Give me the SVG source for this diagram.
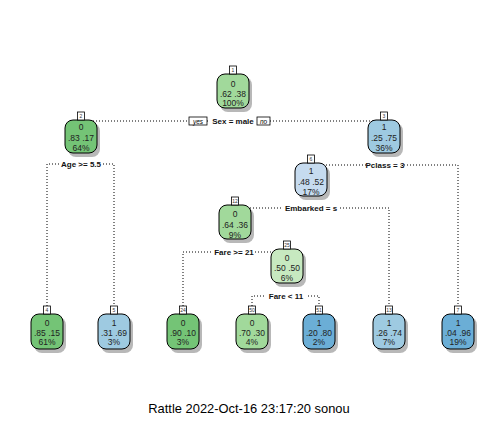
<svg xmlns="http://www.w3.org/2000/svg" width="504" height="432" viewBox="0 0 504 432">
<style>
.bg{fill:#fff}
.box{stroke:#000;stroke-width:1}
.sh{fill:#b8b8b8}
.tag{fill:#fff;stroke:#000;stroke-width:0.8}
.tagt{font-family:"Liberation Sans",Arial,sans-serif;font-size:5px;fill:#333;text-anchor:middle}
.nt{font-family:"Liberation Sans",Arial,sans-serif;font-size:8.5px;fill:#222;text-anchor:middle}
.sp{font-family:"Liberation Sans",Arial,sans-serif;font-size:8px;font-weight:bold;fill:#111;text-anchor:middle}
.yn{font-family:"Liberation Sans",Arial,sans-serif;font-size:6.5px;font-style:italic;fill:#000;text-anchor:middle}
.con{fill:none;stroke:#000;stroke-width:1;stroke-dasharray:1 2}
.g1{fill:#74c476}.g2{fill:#a1d99b}.g3{fill:#c7e9c0}
.b1{fill:#6baed6}.b2{fill:#9ecae1}.b3{fill:#c6dbef}
.foot{font-family:"Liberation Sans",Arial,sans-serif;font-size:12.9px;fill:#000;text-anchor:middle}
</style>
<rect class="bg" x="0" y="0" width="504" height="432"/>
<g id="connectors">
<path class="con" d="M81 121H384"/>
<path class="con" d="M47 306V164H114V306"/>
<path class="con" d="M311 165H458V306"/>
<path class="con" d="M235 208H389V306"/>
<path class="con" d="M183 306V252H287"/>
<path class="con" d="M252 306V296H319V306"/>
</g>
<g id="splitlabels">
<rect class="bg" x="210" y="116" width="46" height="10"/>
<text class="sp" x="233" y="124">Sex = male</text>
<rect class="bg" x="189" y="117" width="18" height="8" stroke="#000" stroke-width="0.8"/>
<text class="yn" x="198" y="123.5">yes</text>
<rect class="bg" x="257" y="117" width="13" height="8" stroke="#000" stroke-width="0.8"/>
<text class="yn" x="263.5" y="123.5">no</text>
<rect class="bg" x="60" y="159" width="42" height="10"/>
<text class="sp" x="81" y="167">Age &gt;= 5.5</text>
<rect class="bg" x="366" y="160" width="38" height="10"/>
<text class="sp" x="385" y="168">Pclass = 3</text>
<rect class="bg" x="283" y="203" width="55" height="10"/>
<text class="sp" x="311" y="211">Embarked = s</text>
<rect class="bg" x="213" y="247" width="42" height="10"/>
<text class="sp" x="234" y="255">Fare &gt;= 21</text>
<rect class="bg" x="265" y="291" width="42" height="10"/>
<text class="sp" x="286" y="299">Fare &lt; 11</text>
</g>
<g id="node1" transform="translate(233,74)">
<rect class="sh" x="-13" y="3" width="32" height="35" rx="8"/>
<rect class="box g2" x="-16" y="0" width="32" height="34" rx="8"/>
<rect class="tag" x="-3.5" y="-8" width="7" height="8"/>
<text class="tagt" x="0" y="-2">1</text>
<text class="nt" x="0" y="13">0</text>
<text class="nt" x="0" y="23">.62 .38</text>
<text class="nt" x="0" y="32">100%</text>
</g>
<g id="node2" transform="translate(81,120)">
<rect class="sh" x="-13" y="3" width="32" height="34" rx="8"/>
<rect class="box g1" x="-16" y="0" width="32" height="33" rx="8"/>
<rect class="tag" x="-3.5" y="-8" width="7" height="8"/>
<text class="tagt" x="0" y="-2">2</text>
<text class="nt" x="0" y="10">0</text>
<text class="nt" x="0" y="21">.83 .17</text>
<text class="nt" x="0" y="31">64%</text>
</g>
<g id="node3" transform="translate(384,120)">
<rect class="sh" x="-13" y="3" width="32" height="34" rx="8"/>
<rect class="box b2" x="-16" y="0" width="32" height="33" rx="8"/>
<rect class="tag" x="-3.5" y="-8" width="7" height="8"/>
<text class="tagt" x="0" y="-2">3</text>
<text class="nt" x="0" y="10">1</text>
<text class="nt" x="0" y="21">.25 .75</text>
<text class="nt" x="0" y="31">36%</text>
</g>
<g id="node6" transform="translate(311,163)">
<rect class="sh" x="-13" y="3" width="32" height="34" rx="8"/>
<rect class="box b3" x="-16" y="0" width="32" height="33" rx="8"/>
<rect class="tag" x="-3.5" y="-8" width="7" height="8"/>
<text class="tagt" x="0" y="-2">6</text>
<text class="nt" x="0" y="11">1</text>
<text class="nt" x="0" y="22">.48 .52</text>
<text class="nt" x="0" y="32">17%</text>
</g>
<g id="node12" transform="translate(235,205)">
<rect class="sh" x="-13" y="3" width="32" height="35" rx="8"/>
<rect class="box g2" x="-16" y="0" width="32" height="34" rx="8"/>
<rect class="tag" x="-3.5" y="-8" width="7" height="8"/>
<text class="tagt" x="0" y="-2">12</text>
<text class="nt" x="0" y="12">0</text>
<text class="nt" x="0" y="23">.64 .36</text>
<text class="nt" x="0" y="33">9%</text>
</g>
<g id="node25" transform="translate(287,249)">
<rect class="sh" x="-13" y="3" width="32" height="35" rx="8"/>
<rect class="box g3" x="-16" y="0" width="32" height="34" rx="8"/>
<rect class="tag" x="-3.5" y="-8" width="7" height="8"/>
<text class="tagt" x="0" y="-2">25</text>
<text class="nt" x="0" y="12">0</text>
<text class="nt" x="0" y="22">.50 .50</text>
<text class="nt" x="0" y="32">6%</text>
</g>
<g id="node4" transform="translate(47,314)">
<rect class="sh" x="-13" y="3" width="32" height="36" rx="8"/>
<rect class="box g1" x="-16" y="0" width="32" height="35" rx="8"/>
<rect class="tag" x="-3.5" y="-8" width="7" height="8"/>
<text class="tagt" x="0" y="-2">4</text>
<text class="nt" x="0" y="12">0</text>
<text class="nt" x="0" y="22">.85 .15</text>
<text class="nt" x="0" y="31">61%</text>
</g>
<g id="node5" transform="translate(114,314)">
<rect class="sh" x="-13" y="3" width="32" height="36" rx="8"/>
<rect class="box b2" x="-16" y="0" width="32" height="35" rx="8"/>
<rect class="tag" x="-3.5" y="-8" width="7" height="8"/>
<text class="tagt" x="0" y="-2">5</text>
<text class="nt" x="0" y="12">1</text>
<text class="nt" x="0" y="22">.31 .69</text>
<text class="nt" x="0" y="31">3%</text>
</g>
<g id="node24" transform="translate(183,314)">
<rect class="sh" x="-13" y="3" width="32" height="36" rx="8"/>
<rect class="box g1" x="-16" y="0" width="32" height="35" rx="8"/>
<rect class="tag" x="-3.5" y="-8" width="7" height="8"/>
<text class="tagt" x="0" y="-2">24</text>
<text class="nt" x="0" y="12">0</text>
<text class="nt" x="0" y="22">.90 .10</text>
<text class="nt" x="0" y="31">3%</text>
</g>
<g id="node50" transform="translate(252,314)">
<rect class="sh" x="-13" y="3" width="32" height="36" rx="8"/>
<rect class="box g2" x="-16" y="0" width="32" height="35" rx="8"/>
<rect class="tag" x="-3.5" y="-8" width="7" height="8"/>
<text class="tagt" x="0" y="-2">50</text>
<text class="nt" x="0" y="12">0</text>
<text class="nt" x="0" y="22">.70 .30</text>
<text class="nt" x="0" y="31">4%</text>
</g>
<g id="node51" transform="translate(319,314)">
<rect class="sh" x="-13" y="3" width="32" height="36" rx="8"/>
<rect class="box b1" x="-16" y="0" width="32" height="35" rx="8"/>
<rect class="tag" x="-3.5" y="-8" width="7" height="8"/>
<text class="tagt" x="0" y="-2">51</text>
<text class="nt" x="0" y="12">1</text>
<text class="nt" x="0" y="22">.20 .80</text>
<text class="nt" x="0" y="31">2%</text>
</g>
<g id="node13" transform="translate(389,314)">
<rect class="sh" x="-13" y="3" width="32" height="36" rx="8"/>
<rect class="box b2" x="-16" y="0" width="32" height="35" rx="8"/>
<rect class="tag" x="-3.5" y="-8" width="7" height="8"/>
<text class="tagt" x="0" y="-2">13</text>
<text class="nt" x="0" y="12">1</text>
<text class="nt" x="0" y="22">.26 .74</text>
<text class="nt" x="0" y="31">7%</text>
</g>
<g id="node7" transform="translate(458,314)">
<rect class="sh" x="-13" y="3" width="32" height="36" rx="8"/>
<rect class="box b1" x="-16" y="0" width="32" height="35" rx="8"/>
<rect class="tag" x="-3.5" y="-8" width="7" height="8"/>
<text class="tagt" x="0" y="-2">7</text>
<text class="nt" x="0" y="12">1</text>
<text class="nt" x="0" y="22">.04 .96</text>
<text class="nt" x="0" y="31">19%</text>
</g>
<text class="foot" x="249" y="413">Rattle 2022-Oct-16 23:17:20 sonou</text>
</svg>
